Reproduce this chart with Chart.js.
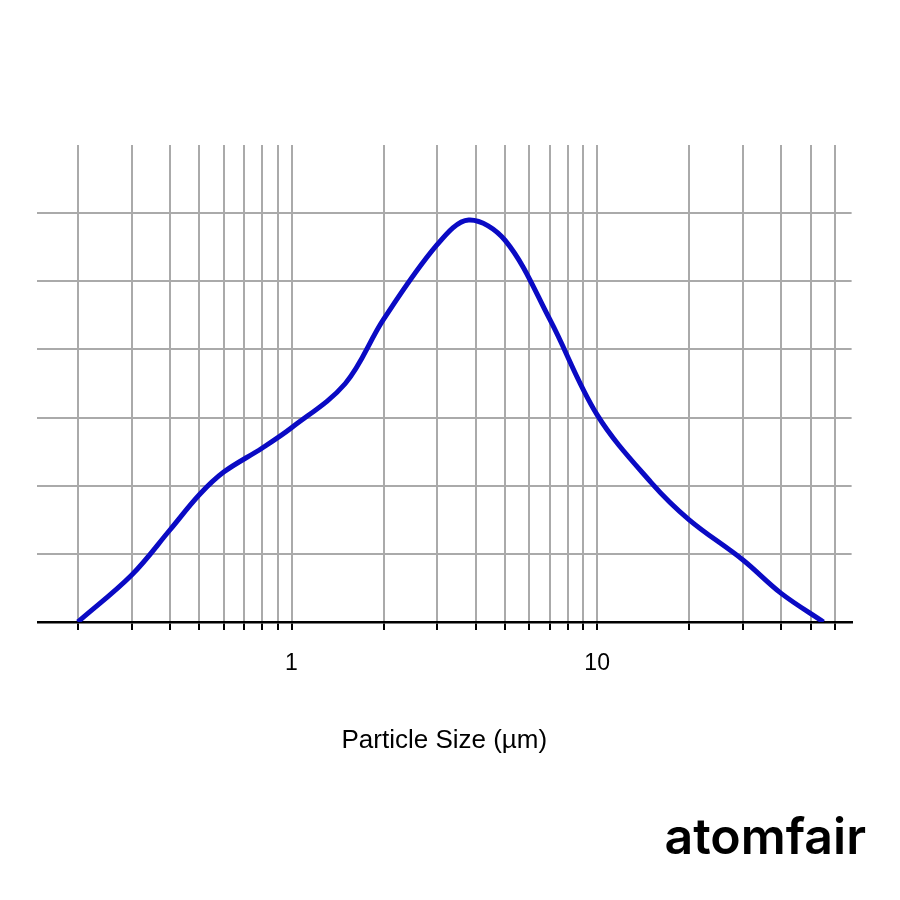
<!DOCTYPE html>
<html><head><meta charset="utf-8">
<script src="https://cdn.jsdelivr.net/npm/chart.js@4"></script>
<style>
body{margin:0;width:900px;height:900px;background:#fff;position:relative;overflow:hidden;font-family:"Liberation Sans",Arial,sans-serif}
#wrap{position:absolute;left:37px;top:145px;width:818px;height:615px}
#logo{position:absolute;right:34px;top:806px;font-family:Inter,"DejaVu Sans",sans-serif;font-weight:600;font-size:50px;color:#000}
</style></head><body>
<div id="wrap"><canvas id="c"></canvas></div>
<div id="logo">atomfair</div>
<script>
const sizes=[0.2,0.3,0.4,0.5,0.6,0.8,1,1.5,2,3,3.8,5,7,10,15,20,30,40,55];
const freq=[0,0.69,1.35,1.87,2.2,2.55,2.85,3.5,4.44,5.54,5.9,5.6,4.44,3.04,2.05,1.5,0.91,0.42,0];
const gridTicks=[0.2,0.3,0.4,0.5,0.6,0.7,0.8,0.9,1,2,3,4,5,6,7,8,9,10,20,30,40,50,60];
const tickLabels={1:"1",10:"10"};
new Chart(document.getElementById('c'),{
type:'line',
data:{datasets:[{data:sizes.map((s,i)=>({x:s,y:freq[i]})),borderColor:'#0a0ac4',borderWidth:5,pointRadius:0,tension:0.35,fill:false}]},
options:{responsive:true,maintainAspectRatio:false,animation:false,
layout:{padding:0},
plugins:{legend:{display:false},tooltip:{enabled:false}},
scales:{
x:{type:'logarithmic',min:0.147,max:68,
afterBuildTicks:s=>{s.ticks=gridTicks.map(v=>({value:v}));},
afterFit:s=>{s.height=138;},
ticks:{autoSkip:false,maxRotation:0,color:'#000',font:{size:23},padding:20,
callback:v=>tickLabels[v]||''},
grid:{color:'#aaa',lineWidth:2,tickColor:'#000',tickLength:8,drawTicks:true},
border:{display:true,color:'#000',width:2.5},
title:{display:true,text:'Particle Size (µm)',color:'#000',font:{size:26},padding:{top:30}}},
y:{min:0,max:7,
afterFit:s=>{s.width=0;},
ticks:{display:false,stepSize:1},
grid:{drawTicks:false,lineWidth:2,color:c=>(c.tick&&(c.tick.value===7||c.tick.value===0))?'rgba(0,0,0,0)':'#aaa'},
border:{display:false}}
}}});
</script>
</body></html>
